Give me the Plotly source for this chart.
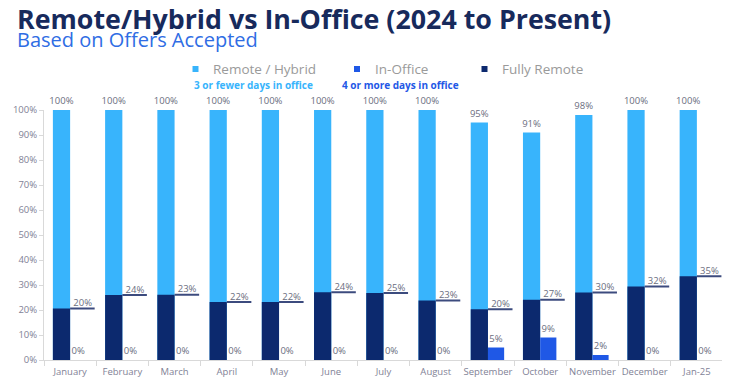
import plotly.graph_objects as go

months = ["January", "February", "March", "April", "May", "June", "July",
          "August", "September", "October", "November", "December", "Jan-25"]
remote_hybrid = [100, 100, 100, 100, 100, 100, 100, 100, 95, 91, 98, 100, 100]
in_office = [0, 0, 0, 0, 0, 0, 0, 0, 5, 9, 2, 0, 0]
fully_remote = [20.6, 26, 26.1, 23.2, 23.2, 27.1, 26.8, 23.8, 20.3, 24.1, 27, 29.4, 33.5]
fully_remote_labels = [20, 24, 23, 22, 22, 24, 25, 23, 20, 27, 30, 32, 35]
y_ticks = [0, 10, 20, 30, 40, 50, 60, 70, 80, 90, 100]
legend_names = ["Remote / Hybrid", "In-Office", "Fully Remote"]
legend_notes = ["3 or fewer days in office", "4 or more days in office", ""]

LIGHT = "#38B4FC"
BLUE = "#1F58E6"
NAVY = "#0C296E"
LINE = "#3C4B7E"
GRAY = "#7F8296"
LBL = "#6b6e80"
FONT = "Open Sans"
legend_colors = [LIGHT, BLUE, NAVY]

OFF = 8  # page body margin
PL, PT, PW, PH = 44 - OFF, 110 - OFF, 679, 250  # plot area in figure px


def px_x(x):  # screen px -> paper
    return (x - OFF - PL) / PW


def px_y(y):
    return (PT + PH - (y - OFF)) / PH


idx = list(range(len(months)))
W = 0.33

fig = go.Figure()
fig.add_trace(go.Bar(
    x=idx, y=remote_hybrid, width=W, offset=-W, marker_color=LIGHT,
    marker_line_width=0, name=legend_names[0],
    text=[f"{v}%" for v in remote_hybrid], textposition="outside", constraintext="none",
    textfont=dict(size=9.5, color=LBL, family=FONT), cliponaxis=False,
    showlegend=False, hoverinfo="skip"))
fig.add_trace(go.Bar(
    x=idx, y=fully_remote, width=W, offset=-W, marker_color=NAVY,
    marker_line_width=0, name=legend_names[2], showlegend=False, hoverinfo="skip"))
fig.add_trace(go.Bar(
    x=idx, y=in_office, width=0.31, offset=0, marker_color=BLUE,
    marker_line_width=0, name=legend_names[1],
    text=[f"{v}%" for v in in_office], textposition="outside", constraintext="none",
    textfont=dict(size=9.5, color=LBL, family=FONT), cliponaxis=False,
    showlegend=False, hoverinfo="skip"))

# horizontal marker lines for fully remote
lx, ly = [], []
for i, v in zip(idx, fully_remote):
    lx += [i, i + 0.47, None]
    ly += [v, v, None]
fig.add_trace(go.Scatter(x=lx, y=ly, mode="lines", line=dict(color=LINE, width=2),
                         showlegend=False, hoverinfo="skip"))
fig.add_trace(go.Scatter(
    x=[i + 0.24 for i in idx], y=fully_remote, mode="text",
    text=[f"{v}%" for v in fully_remote_labels], textposition="top center",
    textfont=dict(size=9.5, color=LBL, family=FONT), cliponaxis=False,
    showlegend=False, hoverinfo="skip"))

annotations = [
    dict(text="<b>Remote/Hybrid vs In-Office (2024 to Present)</b>", xref="paper", yref="paper",
         x=px_x(15), y=px_y(18.8), xanchor="left", yanchor="middle", showarrow=False,
         font=dict(size=26.8, color="#172A5C", family=FONT)),
    dict(text="Based on Offers Accepted", xref="paper", yref="paper",
         x=px_x(15), y=px_y(39.5), xanchor="left", yanchor="middle", showarrow=False,
         font=dict(size=20, color="#2F6DE4", family=FONT)),
]
shapes = []
# manual legend
marker_x = [195.5, 357, 484.5]
note_x = [253, 400, None]
for name, note, col, mx, nx in zip(legend_names, legend_notes, legend_colors, marker_x, note_x):
    shapes.append(dict(type="rect", xref="paper", yref="paper",
                       x0=px_x(mx - 3), x1=px_x(mx + 3), y0=px_y(72), y1=px_y(66),
                       fillcolor=col, line=dict(width=0)))
    annotations.append(dict(text=name, xref="paper", yref="paper", x=px_x(mx + 15.5),
                            y=px_y(69), xanchor="left", yanchor="middle", showarrow=False,
                            font=dict(size=13.5, color="#9a9a9a", family=FONT)))
    if note:
        annotations.append(dict(text=f"<b>{note}</b>", xref="paper", yref="paper",
                                x=px_x(nx), y=px_y(85), xanchor="center", yanchor="middle",
                                showarrow=False, font=dict(size=10, color=col, family=FONT)))

fig.update_layout(
    width=730, height=388,
    margin=dict(l=PL, r=730 - PL - PW, t=PT, b=388 - PT - PH),
    paper_bgcolor="white", plot_bgcolor="white",
    barmode="overlay",
    font=dict(family=FONT, color=GRAY),
    showlegend=False,
    xaxis=dict(range=[-0.5, 12.5], tickvals=idx, ticktext=months, automargin=False,
               showgrid=False, zeroline=False, showline=True, linecolor="#d9d9d9",
               ticks="", tickfont=dict(size=9.5, color=GRAY), ticklabelstandoff=3,
               minor=dict(tick0=0.5, dtick=1, ticks="outside", ticklen=5,
                          tickcolor="#d9d9d9", showgrid=False)),
    yaxis=dict(range=[0, 100], tickvals=y_ticks, ticktext=[f"{v}%" for v in y_ticks],
               showgrid=False, zeroline=False, showline=True, linecolor="#d9d9d9",
               ticks="outside", ticklen=4, tickcolor="#d9d9d9", automargin=False,
               tickfont=dict(size=9.5, color=GRAY)),
    annotations=annotations,
    shapes=shapes,
)

fig.write_html("out.html")
